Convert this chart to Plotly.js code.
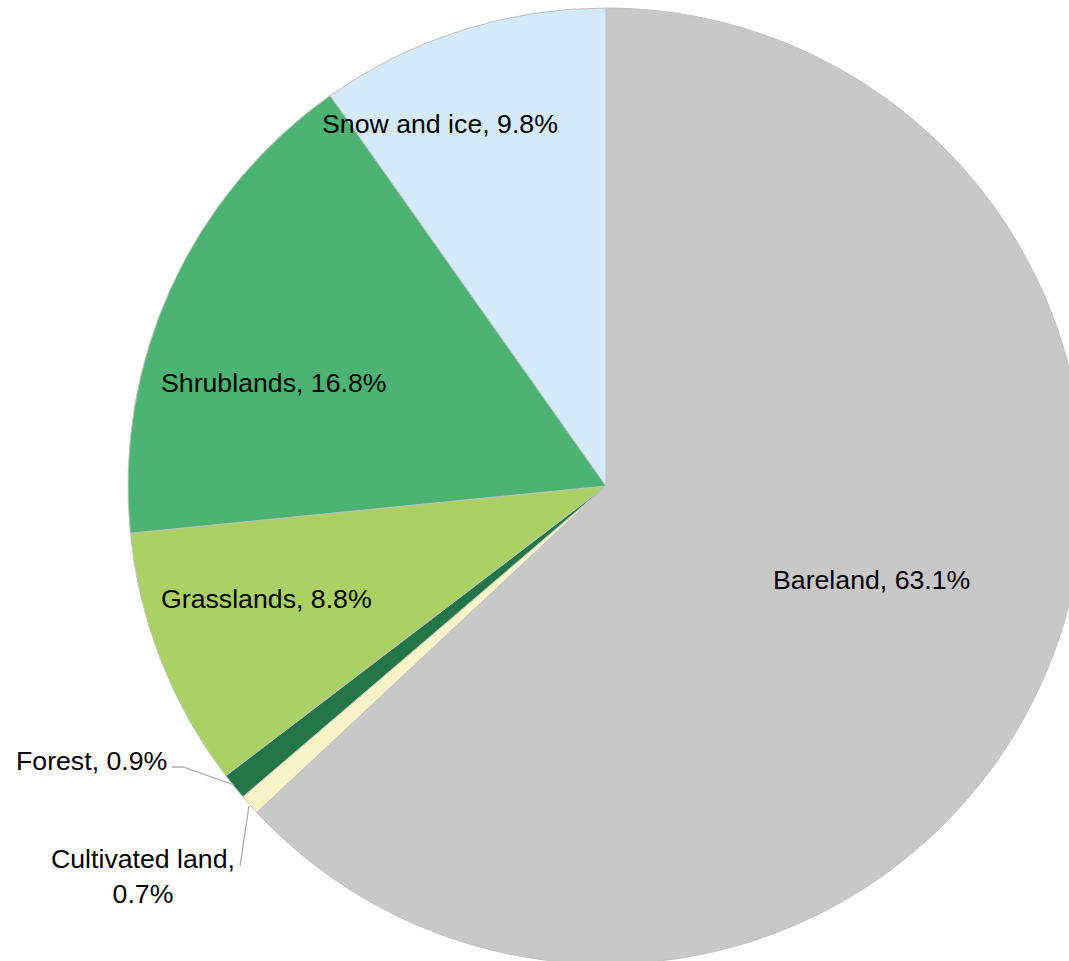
<!DOCTYPE html>
<html>
<head>
<meta charset="utf-8">
<script src="https://cdn.plot.ly/plotly-3.0.1.min.js"></script>
<style>
html, body { margin: 0; padding: 0; overflow: hidden; background: #ffffff; }
#chart { width: 1100px; height: 975px; }
</style>
</head>
<body>
<div id="chart"></div>
<script>
// Data
const categories = ["Bareland", "Cultivated land", "Forest", "Grasslands", "Shrublands", "Snow and ice"];
const shares = [63.1, 0.7, 0.9, 8.8, 16.8, 9.8];
const sliceColors = ["#C8C8C8", "#F8F3C6", "#227648", "#ABD165", "#4BB473", "#D4EAF8"];
const labelTexts = ["Bareland, 63.1%", "Cultivated land,<br>0.7%", "Forest, 0.9%", "Grasslands, 8.8%", "Shrublands, 16.8%", "Snow and ice, 9.8%"];

const W = 1100, H = 975;
const px = v => v / W;
const py = v => 1 - v / H;

// label centre positions (pixels)
const labelPos = [
  [871, 580],
  [143, 876],
  [91, 761],
  [266, 599],
  [274, 383],
  [440, 124]
];

const annotations = labelTexts.map((t, i) => ({
  text: t,
  xref: "paper", yref: "paper",
  x: px(labelPos[i][0]), y: py(labelPos[i][1]),
  xanchor: "center", yanchor: "middle",
  showarrow: false,
  align: "center",
  font: { family: "Liberation Sans, Arial, sans-serif", size: 26.7, color: "#000000" }
}));

const leader = (pts) => ({
  type: "path",
  xref: "paper", yref: "paper",
  path: "M " + pts.map(p => px(p[0]) + "," + py(p[1])).join(" L "),
  line: { color: "#ABABAB", width: 1.3 }
});

const data = [{
  type: "pie",
  labels: categories,
  values: shares,
  sort: false,
  direction: "clockwise",
  rotation: 0,
  textinfo: "none",
  hoverinfo: "label+percent",
  marker: { colors: sliceColors, line: { color: "#BFBFBF", width: 1 } },
  domain: { x: [128 / W, 1084 / W], y: [1 - 964 / H, 1 - 8 / H] },
  showlegend: false
}];

const layout = {
  width: W, height: H,
  margin: { l: 0, r: 0, t: 0, b: 0 },
  paper_bgcolor: "#ffffff",
  showlegend: false,
  annotations: annotations,
  shapes: [
    leader([[172, 767], [183, 767], [234, 785]]),
    leader([[240, 866], [249, 806]])
  ]
};

Plotly.newPlot("chart", data, layout, { displayModeBar: false, staticPlot: true });
</script>
</body>
</html>
